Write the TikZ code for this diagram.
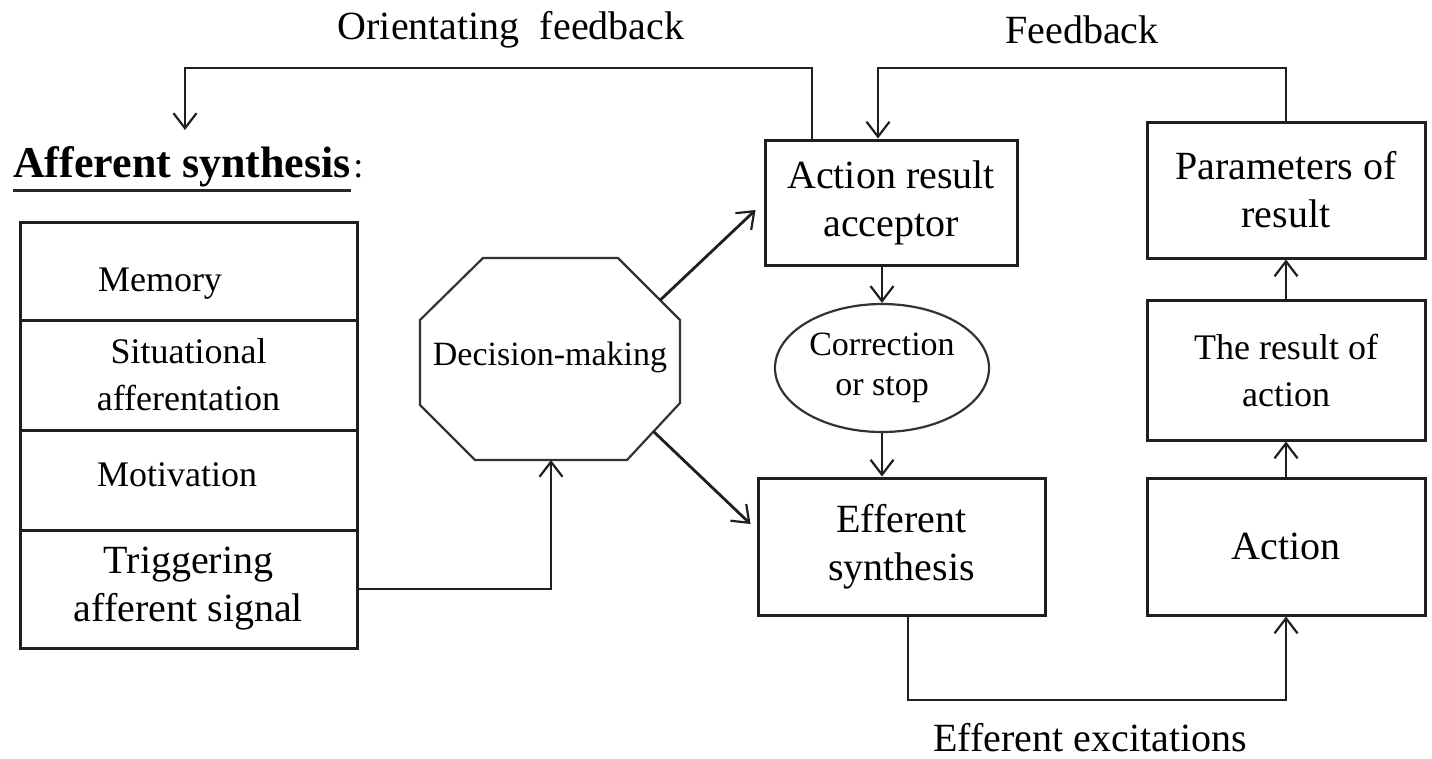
\documentclass[tikz,border=0pt]{standalone}
\usepackage{fontspec}
\setmainfont{Liberation Serif}
\usetikzlibrary{arrows.meta,shapes.geometric,calc}
\newcommand\bigtxt{\fontsize{40}{48}\selectfont}
\newcommand\headtxt{\fontsize{44}{50}\selectfont}
\newcommand\midtxt{\fontsize{36}{47}\selectfont}
\newcommand\smalltxt{\fontsize{34}{40}\selectfont}
\begin{document}
\begin{tikzpicture}[x=1pt,y=-1pt,
  ln/.style={line width=2.8pt, draw=black!88},
  arr/.style={ln, -{Straight Barb[length=15pt,width=23pt,line width=2.2pt]}},
  box/.style={draw=black!88, line width=3pt, inner sep=0pt, align=center, font=\bigtxt},
  row/.style={box, minimum width=337pt},
  lbl/.style={inner sep=0pt, align=center, font=\bigtxt},
]
\useasboundingbox (0,0) rectangle (1432,758);

% headings
\node[lbl] (oflab) at (511,30) {Orientating\ \ feedback};
\node[lbl] (fblab) at (1082,30) {Feedback};
\node[lbl] (exlab) at (1090,738) {Efferent excitations};

% afferent synthesis column
\node[lbl, anchor=west, font=\headtxt\bfseries] (aff) at (13,167) {Afferent synthesis};
\node[lbl, anchor=base west, font=\midtxt] (affc) at ([xshift=2pt]aff.base east) {:};
\draw[line width=2.4pt, black!85] ([yshift=-3pt]aff.south west) -- ([yshift=-3pt]aff.south east);

\node[row, minimum height=98pt] (mem) at (188.5,271) {};
\node[lbl, font=\midtxt] (memt) at (160,284) {Memory};
\node[row, minimum height=110pt, font=\midtxt] (sit) at (188.5,375) {Situational\\afferentation};
\node[row, minimum height=100pt] (mot) at (188.5,480) {};
\node[lbl, font=\midtxt] (mott) at (177,475) {Motivation};
\node[row, minimum height=118pt] (trig) at (188.5,589) {Triggering\\afferent signal};

% decision octagon
\coordinate (o1) at (483,258);
\coordinate (o2) at (618,258);
\coordinate (o3) at (680,320);
\coordinate (o4) at (680,403);
\coordinate (o5) at (627,460);
\coordinate (o6) at (475,460);
\coordinate (o7) at (420,405);
\coordinate (o8) at (420,320);
\draw[line width=2.2pt, black!80] (o1) -- (o2) -- (o3) -- (o4) -- (o5) -- (o6) -- (o7) -- (o8) -- cycle;
\node[lbl, font=\smalltxt] (dec) at (550,357) {Decision-making};

% central column
\node[box, minimum width=252pt, minimum height=125pt] (acc) at (891,202.5) {Action result\\acceptor};
\node[draw=black!80, line width=2.2pt, ellipse, inner sep=0pt, minimum width=214pt, minimum height=128pt, align=center, font=\smalltxt] (cor) at (882,368) {Correction\\or stop};
\node[box, minimum width=287pt, minimum height=137pt] (eff) at (901.5,546.5) {Efferent\\synthesis};

% right column
\node[box, minimum width=278pt, minimum height=136pt] (par) at (1286,190) {Parameters of\\result};
\node[box, minimum width=278pt, minimum height=140pt, font=\midtxt] (res) at (1286,370) {The result of\\action};
\node[box, minimum width=278pt, minimum height=137pt] (act) at (1286,546.5) {Action};

% connectors
\coordinate (oftop) at (812,68);
\coordinate (afin) at (185,130);
\coordinate (fbx) at (878,68);
\coordinate (exs) at (908,700);

\draw[arr] (acc.north -| oftop) -- (oftop) -- (afin |- oftop) -- (afin);
\draw[arr] (par.north) -- (par.north |- fbx) -- (fbx) -- (fbx |- acc.north);
\draw[arr] (trig.east) -| ($(o5)!0.5!(o6)$);
\draw[arr] ($(o2)!0.68!(o3)$) -- ($(acc.west)+(-8,7.5)$);
\draw[arr] ($(o4)!0.5!(o5)$) -- ($(eff.west)+(-6,-22.5)$);
\draw[arr] (cor.north |- acc.south) -- (cor.north);
\draw[arr] (cor.south) -- (cor.south |- eff.north);
\draw[arr] (exs |- eff.south) -- (exs) -| (act.south);
\draw[arr] (act.north) -- (res.south);
\draw[arr] (res.north) -- (par.south);
\end{tikzpicture}
\end{document}
